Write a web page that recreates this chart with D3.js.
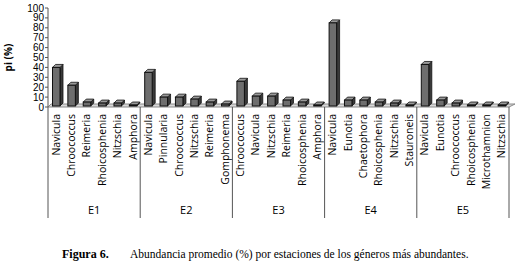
<!DOCTYPE html>
<html>
<head>
<meta charset="utf-8">
<script src="https://d3js.org/d3.v7.min.js"></script>
<style>
  body { margin: 0; background: #fff; }
  svg text { font-family: "Open Sans", "Liberation Sans", sans-serif; }
</style>
</head>
<body>
<script>
var width = 520, height = 272;

// stations and the genera shown for each one
var stations = ["E1", "E2", "E3", "E4", "E5"];
var generaE1 = ["Navicula", "Chroococcus", "Reimeria", "Rhoicosphenia", "Nitzschia", "Amphora"];
var generaE2 = ["Navicula", "Pinnularia", "Chroococcus", "Nitzschia", "Reimeria", "Gomphonema"];
var generaE3 = ["Chroococcus", "Navicula", "Nitzschia", "Reimeria", "Rhoicosphenia", "Amphora"];
var generaE4 = ["Navicula", "Eunotia", "Chaetophora", "Rhoicosphenia", "Nitzschia", "Stauroneis"];
var generaE5 = ["Navicula", "Eunotia", "Chroococcus", "Rhoicosphenia", "Microthamnion", "Nitzschia"];

// pi (%) values
var valuesE1 = [43, 25, 8, 7, 7, 4];
var valuesE2 = [38, 13, 13, 11, 8, 6];
var valuesE3 = [29, 14, 14, 10, 8, 5];
var valuesE4 = [88, 10, 10, 8, 7, 2];
var valuesE5 = [46, 10, 7, 2, 2, 1.5];

var yTicks = [0, 10, 20, 30, 40, 50, 60, 70, 80, 90, 100];

var genera = [generaE1, generaE2, generaE3, generaE4, generaE5];
var values = [valuesE1, valuesE2, valuesE3, valuesE4, valuesE5];

// flatten into one row per bar
var data = [];
stations.forEach(function(s, i) {
  genera[i].forEach(function(g, j) {
    data.push({ station: s, genus: g, value: values[i][j], key: s + "-" + j });
  });
});

var plotLeft = 48, plotRight = 509, plotTop = 8, plotBottom = 107;
var depth = 3;

var svg = d3.select("body").append("svg").attr("width", width).attr("height", height);

var x = d3.scaleBand().domain(data.map(function(d) { return d.key; })).range([plotLeft, plotRight]).padding(0);
var xs = d3.scaleBand().domain(stations).range([plotLeft, plotRight]);
var y = d3.scaleLinear().domain([0, 100]).range([plotBottom, plotTop]);

// floor of the 3D chart
svg.append("path")
  .attr("d", "M" + plotLeft + "," + plotBottom + "L" + (plotLeft + depth) + "," + (plotBottom - depth) +
    "L" + (plotRight + depth + 3) + "," + (plotBottom - depth) + "L" + plotRight + "," + plotBottom + "Z")
  .attr("fill", "#d9d9d9").attr("stroke", "#8a8a8a").attr("stroke-width", 1);

// y axis
svg.append("line").attr("x1", plotLeft).attr("x2", plotLeft).attr("y1", plotTop).attr("y2", plotBottom)
  .attr("stroke", "#555");
svg.selectAll(".ytick").data(yTicks).join("line").attr("class", "ytick")
  .attr("x1", plotLeft - 3).attr("x2", plotLeft).attr("y1", function(d) { return y(d); }).attr("y2", function(d) { return y(d); })
  .attr("stroke", "#555");
svg.selectAll(".ylab").data(yTicks).join("text").attr("class", "ylab")
  .attr("x", plotLeft - 4).attr("y", function(d) { return y(d); }).attr("dy", "0.35em")
  .attr("text-anchor", "end").attr("font-size", 10).attr("fill", "#000")
  .style("font-family", "'Liberation Sans', sans-serif")
  .text(function(d) { return d; });

svg.append("text")
  .attr("transform", "translate(12," + ((plotTop + plotBottom) / 2) + ") rotate(-90)")
  .attr("text-anchor", "middle").attr("font-size", 10).attr("font-weight", "bold")
  .text("pi (%)");

// bars with a little 3D depth
var bw = 7.5;
var bars = svg.selectAll(".bar").data(data).join("g").attr("class", "bar");
bars.each(function(d) {
  var g = d3.select(this);
  var x0 = x(d.key) + 4.5, x1 = x0 + bw;
  var y0 = plotBottom - 1, y1 = y(d.value) + depth;
  if (y1 > y0 - 1) y1 = y0 - 1;
  // side
  g.append("path")
    .attr("d", "M" + x1 + "," + y0 + "L" + (x1 + depth) + "," + (y0 - depth) + "L" + (x1 + depth) + "," + (y1 - depth) + "L" + x1 + "," + y1 + "Z")
    .attr("fill", "#3a3a3a").attr("stroke", "#111").attr("stroke-width", 0.8);
  // top
  g.append("path")
    .attr("d", "M" + x0 + "," + y1 + "L" + (x0 + depth) + "," + (y1 - depth) + "L" + (x1 + depth) + "," + (y1 - depth) + "L" + x1 + "," + y1 + "Z")
    .attr("fill", "#9a9a9a").attr("stroke", "#111").attr("stroke-width", 0.8);
  // front
  g.append("rect")
    .attr("x", x0).attr("y", y1).attr("width", bw).attr("height", y0 - y1)
    .attr("fill", "#6e6e6e").attr("stroke", "#111").attr("stroke-width", 1);
});

// category labels
svg.selectAll(".clab").data(data).join("text").attr("class", "clab")
  .attr("transform", function(d) { return "translate(" + (x(d.key) + x.bandwidth() / 2 + 4) + ",114) rotate(-90)"; })
  .attr("text-anchor", "end").attr("font-size", 10.5).attr("fill", "#000")
  .text(function(d) { return d.genus; });

// group separators
var seps = stations.map(function(s) { return xs(s); }).concat([plotRight]);
svg.selectAll(".sep").data(seps).join("line").attr("class", "sep")
  .attr("x1", function(d) { return d; }).attr("x2", function(d) { return d; })
  .attr("y1", plotBottom).attr("y2", 218)
  .attr("stroke", "#555");

// station labels
svg.selectAll(".slab").data(stations).join("text").attr("class", "slab")
  .attr("x", function(d) { return xs(d) + xs.bandwidth() / 2; }).attr("y", 214)
  .attr("text-anchor", "middle").attr("font-size", 11).attr("fill", "#000")
  .text(function(d) { return d; });

// caption
svg.append("text").attr("x", 62).attr("y", 258)
  .style("font-family", "'Liberation Serif', serif").attr("font-size", 12).attr("font-weight", "bold")
  .text("Figura 6.");
svg.append("text").attr("x", 130).attr("y", 258)
  .style("font-family", "'Liberation Serif', serif").attr("font-size", 11.5)
  .text("Abundancia promedio (%) por estaciones de los géneros más abundantes.");
</script>
</body>
</html>
